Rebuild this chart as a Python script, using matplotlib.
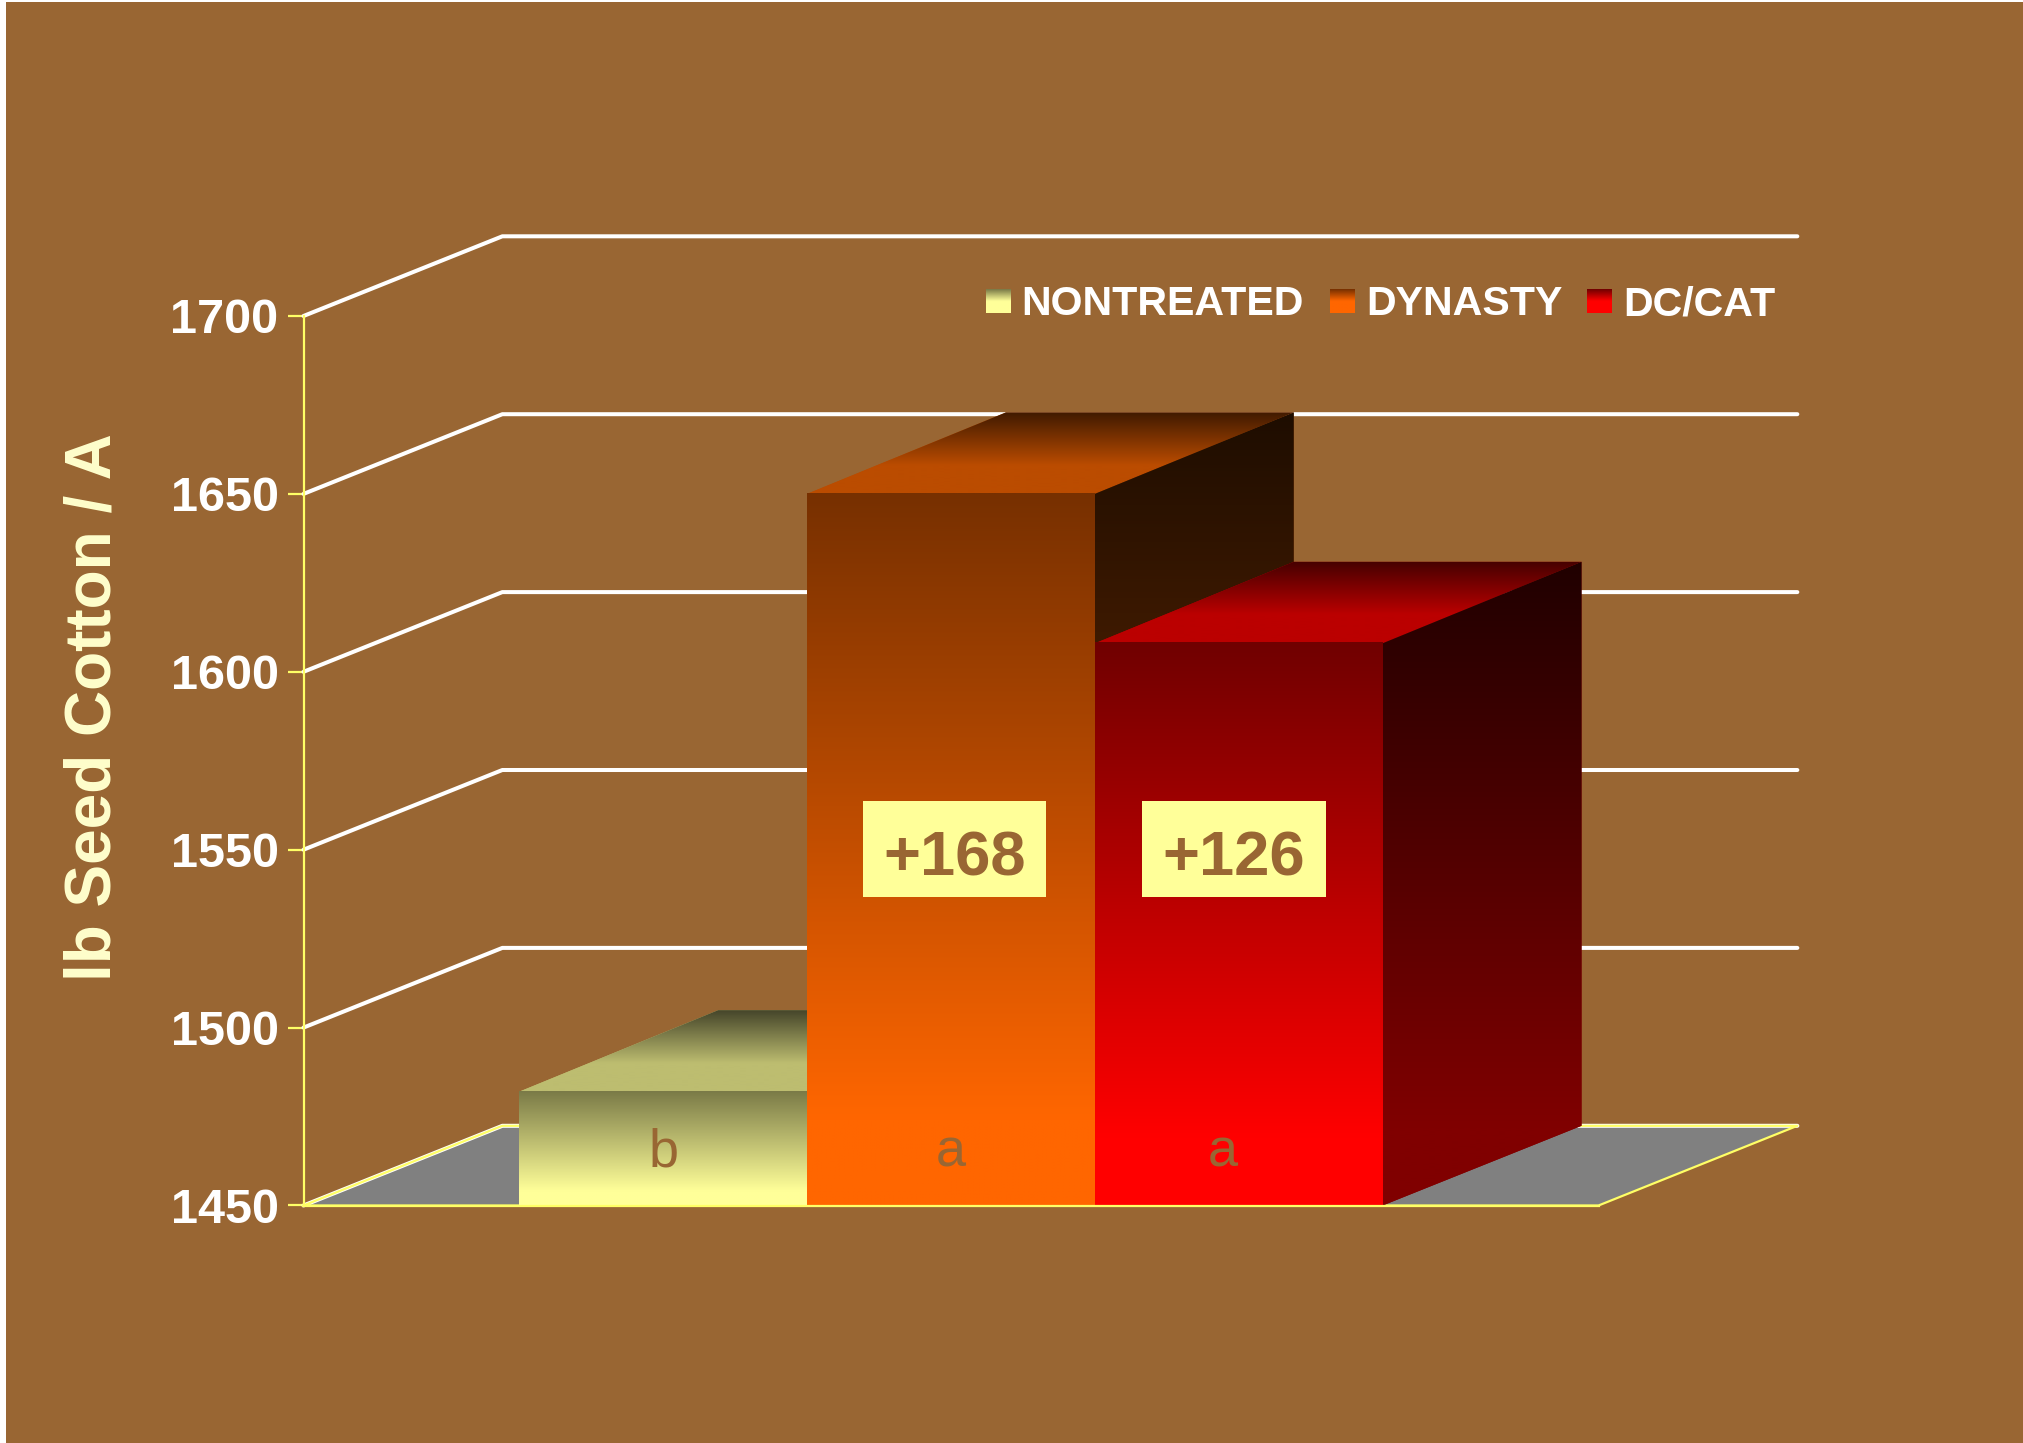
import matplotlib
matplotlib.use('Agg')
import matplotlib.pyplot as plt
import numpy as np
from matplotlib.colors import LinearSegmentedColormap
from matplotlib.patches import Polygon, Rectangle
from matplotlib.transforms import Affine2D

# values
series = ['NONTREATED', 'DYNASTY', 'DC/CAT']
yields = [1482, 1650, 1608]
letters = ['b', 'a', 'a']
gains = ['', '+168', '+126']
y_ticks = [1450, 1500, 1550, 1600, 1650, 1700]

W, H = 2023, 1443
BROWN = '#996633'
YELLOW = '#FFFF66'
CREAM = '#FFFF99'

# gradient colours for each bar: front (bottom, top), top face (front, back), side (bottom, top)
front_cols = [('#FFFF99', '#7A7A47'), ('#FF6600', '#773000'), ('#FF0000', '#700000')]
top_cols = [('#BDBD70', '#45452A'), ('#BB4C00', '#401A00'), ('#BB0000', '#450000')]
side_cols = [('#808050', '#20201A'), ('#803300', '#1E0D00'), ('#800000', '#200000')]

plt.rcParams['font.family'] = ['Liberation Sans', 'DejaVu Sans']

fig = plt.figure(figsize=(W / 100, H / 100), dpi=100, facecolor='white')
# pixel coordinates of the picture, origin top left
px = Affine2D().scale(1, -1).translate(0, H)
fig.patches.append(Rectangle((6, 2), W - 6, H - 2, transform=px, facecolor=BROWN, edgecolor='none',
                             figure=fig, zorder=-5))

ax = fig.add_axes([303.5 / W, 1 - 1205.5 / H, (1598.5 - 303.5) / W, (1205.5 - 316) / H])
ax.patch.set_visible(False)
ax.set_xlim(-1.25, 3.25)
ax.set_ylim(1450, 1700)
ax.set_autoscale_on(False)

# depth of the 3d box in data units (bars stand a little deeper than the wall)
dx = 199 / 288
dy = 22.4
bar_dy = 22.9
x0, x1 = ax.get_xlim()


def gradient(v0, v1, c0, c1, z, plateau=0.0, clip=None, x_range=None):
    # vertical gradient from c0 (at v0) to c1 (at v1), clipped to a patch if given
    cmap = LinearSegmentedColormap.from_list('g', [(0, c0), (max(plateau, 0.001), c0), (1, c1)])
    grad = np.linspace(0, 1, 256).reshape(-1, 1)
    xr = x_range if x_range else (x0, x1 + dx)
    im = ax.imshow(grad, cmap=cmap, aspect='auto', origin='lower', extent=(xr[0], xr[1], v0, v1),
                   zorder=z, vmin=0, vmax=1, interpolation='bilinear')
    if clip is not None:
        im.set_clip_path(clip)
        im.set_clip_box(fig.bbox)
    return im


# floor
floor = Polygon([(x0, 1450), (x0 + dx, 1450 + dy), (x1 + dx, 1450 + dy), (x1, 1450)],
                facecolor='#808080', edgecolor='none', zorder=1, clip_on=False)
ax.add_patch(floor)

# grid lines along wall and floor
for v in y_ticks:
    ax.plot([x0, x0 + dx, x1 + dx], [v, v + dy, v + dy], color='white', lw=2.9,
            solid_capstyle='round', solid_joinstyle='round', zorder=2, clip_on=False)
ax.plot([x0, x0 + dx, x1 + dx, x1, x0], [1450, 1450 + dy, 1450 + dy, 1450, 1450], color=YELLOW, lw=1.6,
        solid_joinstyle='round', zorder=3, clip_on=False)

# bars, left one first so the next one covers it
for i, val in enumerate(yields):
    z = 10 + i * 3
    left, right = i - 0.5, i + 0.5

    top = Polygon([(left, val), (left + dx, val + bar_dy), (right + dx, val + bar_dy), (right, val)],
                  facecolor=top_cols[i][0], edgecolor='none', zorder=z, clip_on=False)
    ax.add_patch(top)
    gradient(val, val + bar_dy, top_cols[i][0], top_cols[i][1], z, plateau=0.35, clip=top)

    side = Polygon([(right, 1450), (right + dx, 1450 + dy), (right + dx, val + bar_dy), (right, val)],
                   facecolor=side_cols[i][0], edgecolor='none', zorder=z, clip_on=False)
    ax.add_patch(side)
    gradient(1450, val + bar_dy, side_cols[i][0], side_cols[i][1], z, plateau=0.12, clip=side)

    ax.bar(i, val - 1450, width=1, bottom=1450, color=front_cols[i][0], zorder=z + 1)
    gradient(1450, val, front_cols[i][0], front_cols[i][1], z + 1, plateau=0.12, x_range=(left, right))

# axis
for name in ['top', 'right']:
    ax.spines[name].set_visible(False)
for name in ['left', 'bottom']:
    ax.spines[name].set_color(YELLOW)
    ax.spines[name].set_linewidth(1.6)
    ax.spines[name].set_zorder(30)
ax.set_xticks([])
ax.set_yticks(y_ticks)
ax.tick_params(axis='y', length=11.5, width=1.6, color=YELLOW, pad=6.5, labelcolor='white', labelsize=35)
for lab in ax.get_yticklabels():
    lab.set_fontweight('bold')
ax.set_ylabel('lb Seed Cotton / A', fontsize=46, fontweight='bold', color='#FFFFCC')
ax.yaxis.set_label_coords((124 - 304) / 1295, (1205.5 - 707) / (1205.5 - 316))

# significance letters inside the bars
letter_x = [0, 1, 1.945]
for i, s in enumerate(letters):
    ax.text(letter_x[i], 1461, s, fontsize=39, color=BROWN, ha='center', va='baseline', zorder=25)

# gain boxes
box_px = [None, (863, 1046), (1142, 1326)]
for i, s in enumerate(gains):
    if not s:
        continue
    a, b = box_px[i]
    ax.add_patch(Rectangle((a, 801), b - a, 96, transform=px, facecolor=CREAM, edgecolor='none', zorder=26, clip_on=False))
    ax.text((a + b) / 2, 852, s, transform=px, fontsize=45.5, fontweight='bold', color=BROWN,
            ha='center', va='center_baseline', zorder=27, clip_on=False)

# legend
swatch_px = [986, 1330, 1587]
text_px = [1021, 1366, 1623]
for i, s in enumerate(series):
    sw = fig.add_axes([swatch_px[i] / W, 1 - 313 / H, 24.5 / W, 24 / H])
    cmap = LinearSegmentedColormap.from_list('s', [front_cols[i][1], front_cols[i][0], front_cols[i][0]])
    sw.imshow(np.linspace(0, 1, 64).reshape(-1, 1), cmap=cmap, aspect='auto')
    sw.axis('off')
    ax.text(text_px[i], 315, s, transform=px, fontsize=29.6, fontweight='bold', color='white',
            ha='left', va='baseline', clip_on=False)

fig.savefig('out.png', dpi=100, facecolor=fig.get_facecolor())
